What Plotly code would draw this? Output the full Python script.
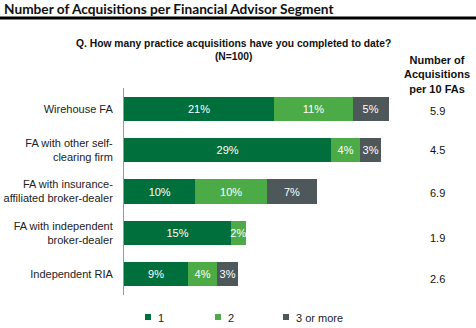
import plotly.graph_objects as go

segments = [
    "Wirehouse FA",
    "FA with other self-<br>clearing firm",
    "FA with insurance-<br>affiliated broker-dealer",
    "FA with independent<br>broker-dealer",
    "Independent RIA",
]
one_acq = [21, 29, 10, 15, 9]
two_acq = [11, 4, 10, 2, 4]
three_plus = [5, 3, 7, 0, 3]
per_10_fas = ["5.9", "4.5", "6.9", "1.9", "2.6"]

series_names = ["1", "2", "3 or more"]
series_colors = ["#006f3c", "#4cab47", "#4e5759"]
series_values = [one_acq, two_acq, three_plus]

FONT = "Liberation Sans, Arial, sans-serif"
L, R, T, B = 124, 16, 88, 33
W, H = 476, 328
PW, PH = W - L - R, H - T - B


def px(x):
    return (x - L) / PW


def py(y):
    return (H - B - y) / PH


fig = go.Figure()
for name, color, vals in zip(series_names, series_colors, series_values):
    fig.add_trace(go.Bar(
        y=segments, x=vals, orientation="h", name=name,
        marker=dict(color=color, line=dict(width=0)),
        text=[f"{v}%" if v else "" for v in vals],
        textposition="inside", insidetextanchor="middle", textangle=0,
        constraintext="none", cliponaxis=False,
        textfont=dict(color="white", size=11, family=FONT),
        showlegend=False, width=0.58,
    ))

annotations = [
    dict(text="<b>Number of Acquisitions per Financial Advisor Segment</b>",
         xref="paper", yref="paper", x=px(2), y=py(8),
         xanchor="left", yanchor="middle", showarrow=False,
         font=dict(family="Lato, sans-serif", size=13.7, color="#111")),
    dict(text="<b>Q. How many practice acquisitions have you completed to date?<br>(N=100)</b>",
         xref="paper", yref="paper", x=px(233), y=py(50),
         xanchor="center", yanchor="middle", showarrow=False,
         font=dict(family=FONT, size=10.3, color="#111")),
    dict(text="<b>Number of<br>Acquisitions<br>per 10 FAs</b>",
         xref="paper", yref="paper", x=px(437), y=py(75),
         xanchor="center", yanchor="middle", showarrow=False,
         font=dict(family=FONT, size=11, color="#111")),
]
shifts = [-2, 0, -1, -5, -5]
for seg, val, s in zip(segments, per_10_fas, shifts):
    annotations.append(dict(
        text=val, xref="paper", yref="y", x=px(437), y=seg,
        yshift=s, xanchor="center", yanchor="middle", showarrow=False,
        font=dict(family=FONT, size=11, color="#111")))

shapes = [dict(type="line", xref="paper", yref="paper",
               x0=px(0), x1=px(W), y0=py(18), y1=py(18),
               line=dict(color="black", width=3))]

# legend row: small colour square followed by the series name
legend_x = [148, 218, 286]
legend_y = 317
for name, color, lx in zip(series_names, series_colors, legend_x):
    shapes.append(dict(type="rect", xref="paper", yref="paper",
                       x0=px(lx - 3), x1=px(lx + 3),
                       y0=py(legend_y + 3), y1=py(legend_y - 3),
                       fillcolor=color, line=dict(width=0)))
    annotations.append(dict(text=name, xref="paper", yref="paper",
                            x=px(lx + 8), y=py(legend_y + 1),
                            xanchor="left", yanchor="middle", showarrow=False,
                            font=dict(family=FONT, size=11, color="#222")))

fig.update_layout(
    width=W, height=H,
    margin=dict(l=L, r=R, t=T, b=B, autoexpand=False),
    barmode="stack",
    showlegend=False,
    plot_bgcolor="white", paper_bgcolor="white",
    font=dict(family=FONT, size=11, color="#222"),
    xaxis=dict(range=[0, 47.0], visible=False, fixedrange=True),
    yaxis=dict(autorange="reversed", showline=True, linecolor="#999",
               linewidth=1, ticks="", showgrid=False, ticklabelstandoff=8,
               automargin=False,
               tickfont=dict(family=FONT, size=11, color="#222")),
    annotations=annotations,
    shapes=shapes,
    bargap=0.42,
)

fig.write_html("out.html")
